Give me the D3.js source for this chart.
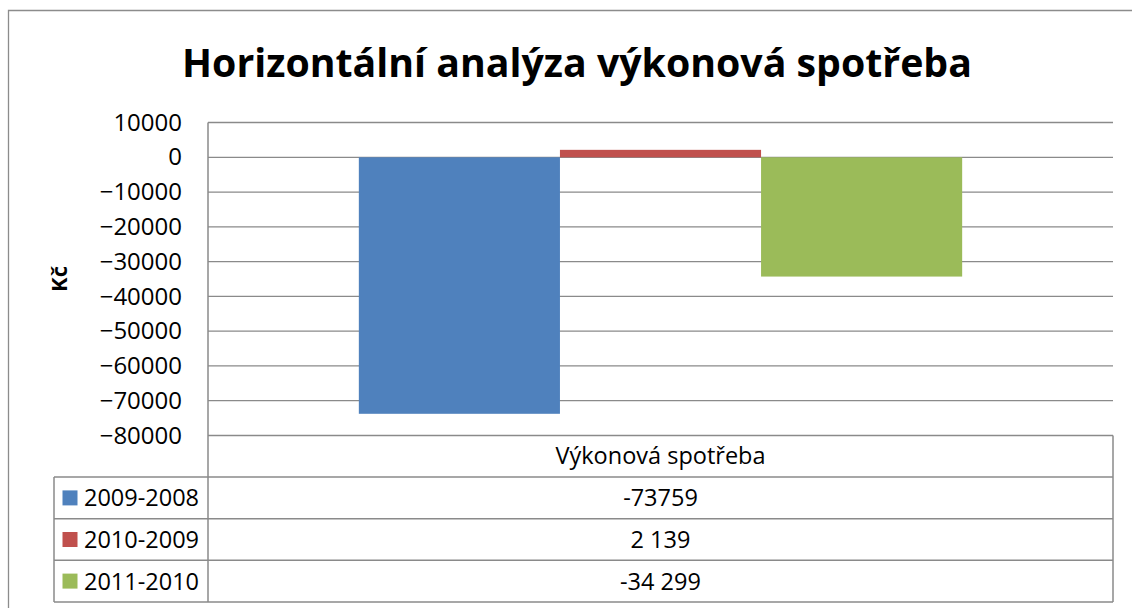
<!DOCTYPE html>
<html>
<head>
<meta charset="utf-8">
<script src="https://cdnjs.cloudflare.com/ajax/libs/d3/7.8.5/d3.min.js"></script>
<style>
  body { margin: 0; background: #fff; }
  text { font-family: "Open Sans", "Noto Sans", sans-serif; fill: #000; }
</style>
</head>
<body>
<svg id="chart" width="1132" height="608"></svg>
<script>
// chart data
var titleText = 'Horizontální analýza výkonová spotřeba';
var yLabel = 'Kč';
var categories = ['Výkonová spotřeba'];
var seriesNames = ['2009-2008', '2010-2009', '2011-2010'];
var seriesValues = [-73759, 2139, -34299];
var tableLabels = ['-73759', '2 139', '-34 299'];
var seriesColors = ['#4F81BD', '#C0504D', '#9BBB59'];
var yTicks = [10000, 0, -10000, -20000, -30000, -40000, -50000, -60000, -70000, -80000];

var svg = d3.select('#chart');
var gridColor = '#8a8a8a';

// plot box
var plotLeft = 208, plotRight = 1113, plotTop = 122.5, plotBottom = 435.5;
var tableLeft = 54, rowH = 41.6;

// outer frame (only top and left are in the picture)
svg.append('path')
    .attr('d', 'M8.5,608 L8.5,10.5 L1132,10.5')
    .attr('fill', 'none')
    .attr('stroke', '#8c8c8c')
    .attr('stroke-width', 1.3);

// title, fitted to the width it has in the picture
var title = svg.append('text')
    .attr('x', 577)
    .attr('y', 77)
    .attr('text-anchor', 'middle')
    .style('font-weight', 'bold')
    .style('font-size', '40px')
    .text(titleText);
var tw = title.node().getComputedTextLength();
title.style('font-size', (40 * 790 / tw) + 'px');

// scales
var yScale = d3.scaleLinear().domain([-80000, 10000]).range([plotBottom, plotTop]);
var x0 = d3.scaleBand().domain(categories).range([plotLeft, plotRight]);
var x1 = d3.scaleBand().domain(seriesNames).range([0, x0.bandwidth()])
    .paddingInner(0).paddingOuter(0.75);

// gridlines
svg.append('g').selectAll('line')
    .data(yTicks)
    .enter()
    .append('line')
    .attr('x1', plotLeft)
    .attr('x2', plotRight)
    .attr('y1', function(d) { return yScale(d); })
    .attr('y2', function(d) { return yScale(d); })
    .attr('stroke', gridColor)
    .attr('stroke-width', 1.3);

// y axis labels
var yAxis = d3.axisLeft(yScale)
    .tickValues(yTicks)
    .tickFormat(d3.format('d'))
    .tickSize(0)
    .tickPadding(26);
var yAxisG = svg.append('g')
    .attr('transform', 'translate(' + plotLeft + ',0)')
    .call(yAxis);
yAxisG.select('.domain').remove();
yAxisG.selectAll('text')
    .style('font-family', '"Open Sans", sans-serif')
    .style('font-size', '24px')
    .attr('fill', '#000');

// y title
svg.append('text')
    .attr('transform', 'translate(67,279) rotate(-90)')
    .attr('text-anchor', 'middle')
    .style('font-weight', 'bold')
    .style('font-size', '22px')
    .text(yLabel);

// bars
var barData = seriesNames.map(function(s, i) {
    return { cat: categories[0], name: s, value: seriesValues[i], color: seriesColors[i] };
});
svg.append('g').selectAll('rect')
    .data(barData)
    .enter()
    .append('rect')
    .attr('x', function(d) { return x0(d.cat) + x1(d.name); })
    .attr('width', x1.bandwidth())
    .attr('y', function(d) { return yScale(Math.max(0, d.value)); })
    .attr('height', function(d) { return Math.abs(yScale(d.value) - yScale(0)); })
    .attr('fill', function(d) { return d.color; });

// data table
var tableTop = plotBottom;
var tableG = svg.append('g');
// vertical lines
tableG.append('line')
    .attr('x1', plotLeft).attr('x2', plotLeft)
    .attr('y1', plotTop).attr('y2', tableTop + rowH * 4)
    .attr('stroke', gridColor).attr('stroke-width', 1.5);
tableG.append('line')
    .attr('x1', plotRight).attr('x2', plotRight)
    .attr('y1', tableTop).attr('y2', tableTop + rowH * 4)
    .attr('stroke', gridColor).attr('stroke-width', 1.5);
tableG.append('line')
    .attr('x1', tableLeft).attr('x2', tableLeft)
    .attr('y1', tableTop + rowH).attr('y2', tableTop + rowH * 4)
    .attr('stroke', gridColor).attr('stroke-width', 1.5);
// horizontal lines
[1, 2, 3, 4].forEach(function(r) {
    tableG.append('line')
        .attr('x1', tableLeft).attr('x2', plotRight)
        .attr('y1', tableTop + rowH * r).attr('y2', tableTop + rowH * r)
        .attr('stroke', gridColor).attr('stroke-width', 1.5);
});

// category header
tableG.selectAll('.cat')
    .data(categories)
    .enter()
    .append('text')
    .attr('class', 'cat')
    .attr('x', function(d) { return x0(d) + x0.bandwidth() / 2; })
    .attr('y', tableTop + rowH / 2 + 8)
    .attr('text-anchor', 'middle')
    .style('font-size', '23.5px')
    .text(function(d) { return d; });

// rows
var rows = tableG.selectAll('.row')
    .data(barData)
    .enter()
    .append('g')
    .attr('class', 'row')
    .attr('transform', function(d, i) {
        return 'translate(0,' + (tableTop + rowH * (i + 1)) + ')';
    });
rows.append('rect')
    .attr('x', 62.5)
    .attr('y', rowH / 2 - 7.5)
    .attr('width', 15)
    .attr('height', 15)
    .attr('fill', function(d) { return d.color; });
rows.append('text')
    .attr('x', 84)
    .attr('y', rowH / 2 + 8.5)
    .style('font-size', '23.5px')
    .text(function(d) { return d.name; });
rows.append('text')
    .attr('x', x0(categories[0]) + x0.bandwidth() / 2)
    .attr('y', rowH / 2 + 8.5)
    .attr('text-anchor', 'middle')
    .style('font-size', '23.5px')
    .text(function(d, i) { return tableLabels[i]; });
</script>
</body>
</html>
